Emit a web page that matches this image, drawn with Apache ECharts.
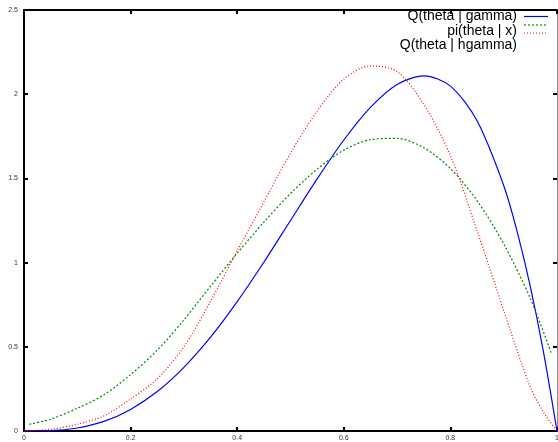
<!DOCTYPE html>
<html>
<head>
<meta charset="utf-8">
<script src="https://cdn.jsdelivr.net/npm/echarts@6/dist/echarts.min.js"></script>
<style>html,body{margin:0;padding:0;background:#fff;}#c{width:558px;height:442px;}</style>
</head>
<body>
<div id="c"></div>
<script>
// Series names (legend)
var seriesNames = ['Q(theta | gamma)', 'pi(theta | x)', 'Q(theta | hgamma)'];

// Q(theta | gamma) — blue solid
var blueX = [0, 0.05, 0.1, 0.15, 0.2, 0.25, 0.3, 0.35, 0.4, 0.45, 0.5, 0.55, 0.6, 0.65, 0.7, 0.75, 0.8, 0.85, 0.9, 0.925, 0.95, 0.975, 1];
var blueY = [0, 0.002, 0.018, 0.057, 0.128, 0.234, 0.378, 0.557, 0.768, 1.002, 1.25, 1.497, 1.728, 1.922, 2.058, 2.109, 2.048, 1.842, 1.458, 1.187, 0.857, 0.463, 0];

// pi(theta | x) — green dashed
var greenX = [0.01, 0.05, 0.1, 0.15, 0.2, 0.25, 0.3, 0.35, 0.4, 0.45, 0.5, 0.55, 0.6, 0.65, 0.7, 0.75, 0.8, 0.85, 0.9, 0.95, 0.99];
var greenY = [0.04, 0.07, 0.135, 0.215, 0.335, 0.48, 0.66, 0.86, 1.055, 1.24, 1.41, 1.555, 1.668, 1.73, 1.738, 1.682, 1.559, 1.368, 1.111, 0.787, 0.455];

// Q(theta | hgamma) — red dotted
var redX = [0, 0.05, 0.1, 0.15, 0.2, 0.25, 0.3, 0.35, 0.4, 0.45, 0.5, 0.55, 0.6, 0.65, 0.7, 0.75, 0.8, 0.85, 0.9, 0.95, 0.975, 1];
var redY = [0, 0.01, 0.04, 0.09, 0.19, 0.31, 0.5, 0.77, 1.07, 1.36, 1.65, 1.9, 2.09, 2.168, 2.135, 1.94, 1.635, 1.19, 0.715, 0.26, 0.11, 0];

// axis ranges / ticks
var xMin = 0, xMax = 1, xStep = 0.2;
var yMin = 0, yMax = 2.5, yStep = 0.5;

function pairs(xs, ys) { return xs.map(function (x, i) { return [x, ys[i]]; }); }

var labelFont = { fontSize: 7, fontFamily: 'Liberation Sans', color: '#333' };
var axisLine = { show: true, onZero: false, lineStyle: { color: '#000', width: 2 } };
var tickIn = { show: true, inside: true, length: 4, lineStyle: { color: '#000', width: 2 } };
var legendFont = '14px "Liberation Sans"';

var chart = echarts.init(document.getElementById('c'), null, { renderer: 'canvas' });
chart.setOption({
  animation: false,
  backgroundColor: '#fff',
  grid: { left: 24, top: 10, right: 1, bottom: 11, containLabel: false, outerBoundsMode: 'none' },
  xAxis: [
    { type: 'value', position: 'bottom', min: xMin, max: xMax, interval: xStep,
      axisLine: axisLine, axisTick: tickIn, splitLine: { show: false },
      axisLabel: Object.assign({ margin: 4 }, labelFont) },
    { type: 'value', position: 'top', min: xMin, max: xMax, interval: xStep,
      axisLine: axisLine, axisTick: tickIn, splitLine: { show: false },
      axisLabel: { show: false } }
  ],
  yAxis: [
    { type: 'value', position: 'left', min: yMin, max: yMax, interval: yStep,
      axisLine: axisLine, axisTick: tickIn, splitLine: { show: false },
      axisLabel: Object.assign({ margin: 6 }, labelFont) },
    { type: 'value', position: 'right', min: yMin, max: yMax, interval: yStep,
      axisLine: { show: true, onZero: false, lineStyle: { color: '#888', width: 1 } }, axisTick: tickIn, splitLine: { show: false },
      axisLabel: { show: false } }
  ],
  series: [
    { name: seriesNames[0], type: 'line', data: pairs(blueX, blueY), smooth: 0.3, showSymbol: false,
      lineStyle: { color: '#0000ff', width: 1.2, type: 'solid' } },
    { name: seriesNames[1], type: 'line', data: pairs(greenX, greenY), smooth: 0.3, showSymbol: false,
      lineStyle: { color: '#008a00', width: 1.2, type: [2, 2] } },
    { name: seriesNames[2], type: 'line', data: pairs(redX, redY), smooth: 0.3, showSymbol: false,
      lineStyle: { color: '#ff0000', width: 1.2, type: [1, 2] } }
  ],
  graphic: [
    { type: 'text', z: 100, style: { x: 517, y: 16.5, text: seriesNames[0], font: legendFont, fill: '#000', textAlign: 'right', textVerticalAlign: 'middle', verticalAlign: 'middle' } },
    { type: 'text', z: 100, style: { x: 517, y: 31.5, text: seriesNames[1], font: legendFont, fill: '#000', textAlign: 'right', textVerticalAlign: 'middle', verticalAlign: 'middle' } },
    { type: 'text', z: 100, style: { x: 517, y: 45, text: seriesNames[2], font: legendFont, fill: '#000', textAlign: 'right', textVerticalAlign: 'middle', verticalAlign: 'middle' } },
    { type: 'line', shape: { x1: 524, y1: 16.5, x2: 548, y2: 16.5 }, style: { stroke: '#0000ff', lineWidth: 1.2 } },
    { type: 'line', shape: { x1: 524, y1: 25, x2: 548, y2: 25 }, style: { stroke: '#008a00', lineWidth: 1.2, lineDash: [2, 2] } },
    { type: 'line', shape: { x1: 524, y1: 33, x2: 548, y2: 33 }, style: { stroke: '#ff0000', lineWidth: 1.2, lineDash: [1, 2] } }
  ]
});
</script>
</body>
</html>
